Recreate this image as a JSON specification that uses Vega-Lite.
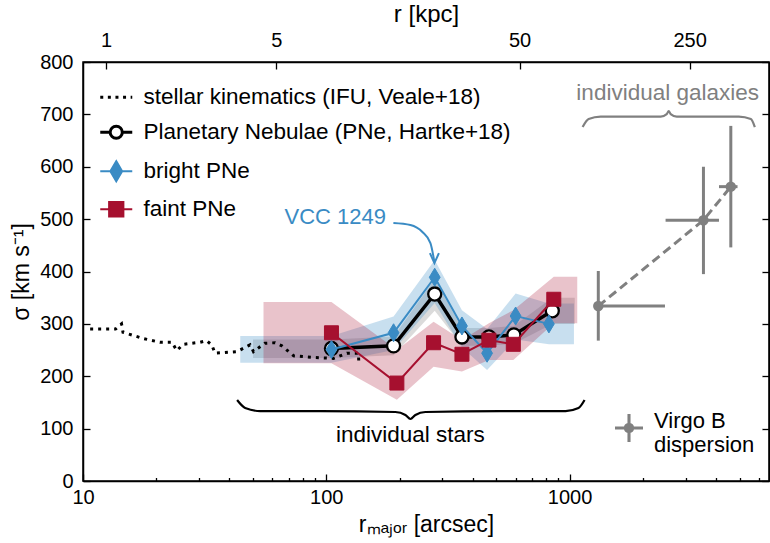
{
  "$schema": "https://vega.github.io/schema/vega-lite/v6.json",
  "width": 686,
  "height": 419,
  "autosize": {"type": "none"},
  "padding": {"left": 83, "top": 62, "right": 1, "bottom": 62},
  "background": "white",
  "config": {
    "font": "Liberation Sans",
    "view": {"stroke": "black", "strokeWidth": 1.5},
    "axis": {"grid": false, "domainColor": "black", "domainWidth": 1.5, "tickColor": "black", "tickWidth": 1.3, "labelFont": "Liberation Sans", "labelFontSize": 20, "labelColor": "black", "titleFont": "Liberation Sans", "titleFontSize": 23, "titleFontWeight": "normal", "titleColor": "black", "labelOverlap": false, "labelFlush": false},
    "legend": {"labelFont": "Liberation Sans", "labelColor": "black"}
  },
  "datasets": {
    "stellar": [
      {"series": "stellar kinematics (IFU, Veale+18)", "r": 10.7, "sigma": 290},
      {"series": "stellar kinematics (IFU, Veale+18)", "r": 13.6, "sigma": 290},
      {"series": "stellar kinematics (IFU, Veale+18)", "r": 14.4, "sigma": 300},
      {"series": "stellar kinematics (IFU, Veale+18)", "r": 14.6, "sigma": 284},
      {"series": "stellar kinematics (IFU, Veale+18)", "r": 17.7, "sigma": 272},
      {"series": "stellar kinematics (IFU, Veale+18)", "r": 20.7, "sigma": 265},
      {"series": "stellar kinematics (IFU, Veale+18)", "r": 23.2, "sigma": 265},
      {"series": "stellar kinematics (IFU, Veale+18)", "r": 24.3, "sigma": 249},
      {"series": "stellar kinematics (IFU, Veale+18)", "r": 25.8, "sigma": 261},
      {"series": "stellar kinematics (IFU, Veale+18)", "r": 30.3, "sigma": 265},
      {"series": "stellar kinematics (IFU, Veale+18)", "r": 32.2, "sigma": 268},
      {"series": "stellar kinematics (IFU, Veale+18)", "r": 33.8, "sigma": 260},
      {"series": "stellar kinematics (IFU, Veale+18)", "r": 34.9, "sigma": 244},
      {"series": "stellar kinematics (IFU, Veale+18)", "r": 42.9, "sigma": 247},
      {"series": "stellar kinematics (IFU, Veale+18)", "r": 48.6, "sigma": 260},
      {"series": "stellar kinematics (IFU, Veale+18)", "r": 50.2, "sigma": 247},
      {"series": "stellar kinematics (IFU, Veale+18)", "r": 55.9, "sigma": 263},
      {"series": "stellar kinematics (IFU, Veale+18)", "r": 61.6, "sigma": 264},
      {"series": "stellar kinematics (IFU, Veale+18)", "r": 65.7, "sigma": 258},
      {"series": "stellar kinematics (IFU, Veale+18)", "r": 73.4, "sigma": 239},
      {"series": "stellar kinematics (IFU, Veale+18)", "r": 88.8, "sigma": 236},
      {"series": "stellar kinematics (IFU, Veale+18)", "r": 107, "sigma": 234},
      {"series": "stellar kinematics (IFU, Veale+18)", "r": 121.5, "sigma": 244},
      {"series": "stellar kinematics (IFU, Veale+18)", "r": 135.6, "sigma": 244},
      {"series": "stellar kinematics (IFU, Veale+18)", "r": 136, "sigma": 225}
    ],
    "pne_all": [
      {"series": "Planetary Nebulae (PNe, Hartke+18)", "r": 105, "sigma": 253},
      {"series": "Planetary Nebulae (PNe, Hartke+18)", "r": 189, "sigma": 258},
      {"series": "Planetary Nebulae (PNe, Hartke+18)", "r": 279, "sigma": 357},
      {"series": "Planetary Nebulae (PNe, Hartke+18)", "r": 361, "sigma": 275},
      {"series": "Planetary Nebulae (PNe, Hartke+18)", "r": 466, "sigma": 275},
      {"series": "Planetary Nebulae (PNe, Hartke+18)", "r": 590, "sigma": 279},
      {"series": "Planetary Nebulae (PNe, Hartke+18)", "r": 849, "sigma": 325}
    ],
    "pne_bright": [
      {"series": "bright PNe", "r": 105, "sigma": 251},
      {"series": "bright PNe", "r": 189, "sigma": 283},
      {"series": "bright PNe", "r": 279, "sigma": 389},
      {"series": "bright PNe", "r": 361, "sigma": 296},
      {"series": "bright PNe", "r": 458, "sigma": 244},
      {"series": "bright PNe", "r": 600, "sigma": 315},
      {"series": "bright PNe", "r": 822, "sigma": 300}
    ],
    "pne_faint": [
      {"series": "faint PNe", "r": 105, "sigma": 283},
      {"series": "faint PNe", "r": 195, "sigma": 187},
      {"series": "faint PNe", "r": 276, "sigma": 264},
      {"series": "faint PNe", "r": 361, "sigma": 242},
      {"series": "faint PNe", "r": 466, "sigma": 269},
      {"series": "faint PNe", "r": 587, "sigma": 261},
      {"series": "faint PNe", "r": 861, "sigma": 347}
    ],
    "band_all": [
      {"r": 50, "lo": 235, "hi": 270},
      {"r": 105, "lo": 235, "hi": 270},
      {"r": 189, "lo": 240, "hi": 276},
      {"r": 279, "lo": 325, "hi": 385},
      {"r": 361, "lo": 258, "hi": 292},
      {"r": 466, "lo": 258, "hi": 292},
      {"r": 590, "lo": 262, "hi": 296},
      {"r": 849, "lo": 300, "hi": 350},
      {"r": 1050, "lo": 300, "hi": 350}
    ],
    "band_bright": [
      {"r": 44.3, "lo": 226, "hi": 277},
      {"r": 105, "lo": 226, "hi": 277},
      {"r": 189, "lo": 250, "hi": 314},
      {"r": 279, "lo": 340, "hi": 422},
      {"r": 361, "lo": 255, "hi": 326},
      {"r": 458, "lo": 212, "hi": 290},
      {"r": 600, "lo": 270, "hi": 358},
      {"r": 822, "lo": 261, "hi": 339},
      {"r": 1042, "lo": 261, "hi": 339}
    ],
    "band_faint": [
      {"r": 55.2, "lo": 225, "hi": 342},
      {"r": 105, "lo": 225, "hi": 342},
      {"r": 195, "lo": 155, "hi": 250},
      {"r": 276, "lo": 218, "hi": 304},
      {"r": 361, "lo": 209, "hi": 269},
      {"r": 466, "lo": 231, "hi": 301},
      {"r": 587, "lo": 231, "hi": 326},
      {"r": 861, "lo": 301, "hi": 390},
      {"r": 1075, "lo": 301, "hi": 390}
    ],
    "galaxies": [
      {"grp": "Virgo B dispersion", "r": 1312, "sigma": 334, "rlo": 1312, "rhi": 2466, "slo": 268, "shi": 401},
      {"grp": "Virgo B dispersion", "r": 3549, "sigma": 498, "rlo": 2480, "rhi": 4111, "slo": 395, "shi": 600},
      {"grp": "Virgo B dispersion", "r": 4598, "sigma": 562, "rlo": 4111, "rhi": 4900, "slo": 446, "shi": 678}
    ],
    "brace_stars": [
      {"r": 43.0, "sigma": 154.6}, {"r": 46.4, "sigma": 139.4}, {"r": 53.5, "sigma": 133.6},
      {"r": 94.5, "sigma": 133.6}, {"r": 192.3, "sigma": 131.7}, {"r": 211.4, "sigma": 126},
      {"r": 221.7, "sigma": 118.4}, {"r": 232.4, "sigma": 126}, {"r": 255.5, "sigma": 131.7},
      {"r": 520, "sigma": 133.6}, {"r": 962.7, "sigma": 133.6}, {"r": 1088, "sigma": 139.4},
      {"r": 1152, "sigma": 154.6}
    ],
    "brace_gal": [
      {"r": 1131, "sigma": 675.8}, {"r": 1197, "sigma": 691}, {"r": 1341, "sigma": 695.8},
      {"r": 2368, "sigma": 695.8}, {"r": 2507, "sigma": 700.6}, {"r": 2555, "sigma": 706.3},
      {"r": 2603, "sigma": 700.6}, {"r": 2756, "sigma": 695.8}, {"r": 4961, "sigma": 695.8},
      {"r": 5557, "sigma": 691}, {"r": 5772, "sigma": 675.8}
    ],
    "arrow": [
      {"r": 188.7, "sigma": 492.5}, {"r": 221.7, "sigma": 488.7}, {"r": 248.3, "sigma": 475.3},
      {"r": 267.9, "sigma": 454.3}, {"r": 278.2, "sigma": 418}
    ]
  },
  "layer": [
    {
      "encoding": {
        "x": {"field": "r", "type": "quantitative", "scale": {"type": "log", "domain": [10, 6600], "nice": false},
          "axis": {"orient": "bottom", "title": "rₘₐⱼₒᵣ [arcsec]",
            "values": [10, 20, 30, 40, 50, 60, 70, 80, 90, 100, 200, 300, 400, 500, 600, 700, 800, 900, 1000, 2000, 3000, 4000, 5000, 6000],
            "format": "d",
            "labelExpr": "(datum.value == 10 || datum.value == 100 || datum.value == 1000) ? datum.label : ''",
            "tickSize": {"condition": {"test": "datum.value == 10 || datum.value == 100 || datum.value == 1000", "value": -7}, "value": -3.5},
            "labelPadding": 13, "titlePadding": 3}},
        "y": {"field": "sigma", "type": "quantitative", "scale": {"domain": [0, 800], "nice": false},
          "axis": {"orient": "left", "title": "σ [km s⁻¹]", "values": [0, 100, 200, 300, 400, 500, 600, 700, 800], "tickSize": -7, "labelPadding": 17, "titlePadding": 6}}
      },
      "layer": [
        {"data": {"name": "band_all"}, "mark": {"type": "area", "color": "#888888", "opacity": 0.3},
          "encoding": {"y": {"field": "lo", "type": "quantitative", "title": "σ [km s⁻¹]"}, "y2": {"field": "hi"}}},
        {"data": {"name": "band_bright"}, "mark": {"type": "area", "color": "#3a8bc4", "opacity": 0.28},
          "encoding": {"y": {"field": "lo", "type": "quantitative", "title": "σ [km s⁻¹]"}, "y2": {"field": "hi"}}},
        {"data": {"name": "band_faint"}, "mark": {"type": "area", "color": "#a6102f", "opacity": 0.25},
          "encoding": {"y": {"field": "lo", "type": "quantitative", "title": "σ [km s⁻¹]"}, "y2": {"field": "hi"}}},
        {"data": {"name": "brace_stars"}, "mark": {"type": "line", "color": "black", "strokeWidth": 2.2, "interpolate": "monotone"}, "encoding": {}},
        {"data": {"name": "brace_gal"}, "mark": {"type": "line", "color": "#808080", "strokeWidth": 2.2, "interpolate": "monotone"}, "encoding": {}},
        {"data": {"name": "galaxies"}, "mark": {"type": "line", "color": "#808080", "strokeWidth": 3, "strokeDash": [9, 5]}, "encoding": {}},
        {"data": {"name": "galaxies"}, "mark": {"type": "rule", "color": "#808080", "strokeWidth": 3},
          "encoding": {"x": {"field": "rlo", "type": "quantitative", "title": "rₘₐⱼₒᵣ [arcsec]"}, "x2": {"field": "rhi"}}},
        {"data": {"name": "galaxies"}, "mark": {"type": "rule", "color": "#808080", "strokeWidth": 3},
          "encoding": {"y": {"field": "slo", "type": "quantitative", "title": "σ [km s⁻¹]"}, "y2": {"field": "shi"}}},
        {"data": {"name": "galaxies"}, "mark": {"type": "point", "filled": true, "color": "#808080", "size": 110, "opacity": 1}, "encoding": {}},
        {"data": {"name": "galaxies"}, "mark": {"type": "point", "filled": true, "color": "#808080", "size": 0, "opacity": 1},
          "encoding": {"shape": {"field": "grp", "type": "nominal",
            "scale": {"range": ["M-1,-0.11L1,-0.11L1,0.11L-1,0.11Z M-0.11,-1L0.11,-1L0.11,1L-0.11,1Z M-0.37,0A0.37,0.37 0 1,1 0.37,0A0.37,0.37 0 1,1 -0.37,0Z"]},
            "legend": {"title": null, "orient": "none", "legendX": 531, "legendY": 351, "symbolSize": 784, "symbolFillColor": "#808080", "symbolStrokeColor": "#808080", "symbolOpacity": 1, "labelFontSize": 22, "labelOffset": 10, "labelLimit": 400, "padding": 0,
              "labelBaseline": "alphabetic",
              "labelExpr": "['Virgo B', 'dispersion']"}}}},
        {"data": {"name": "stellar"}, "mark": {"type": "line", "strokeWidth": 3, "strokeDash": [3, 5]},
          "encoding": {"color": {"field": "series", "type": "nominal",
            "scale": {"domain": ["stellar kinematics (IFU, Veale+18)", "Planetary Nebulae (PNe, Hartke+18)", "bright PNe", "faint PNe"], "range": ["black", "black", "#3a8bc4", "#a6102f"]},
            "legend": {"title": null, "orient": "none", "legendX": 22, "legendY": 24, "symbolSize": 1024, "labelFontSize": 22.5, "labelOffset": 16, "rowPadding": 11, "labelLimit": 500, "padding": 0,
              "encode": {"symbols": {"update": {
                "shape": {"signal": "datum.value === 'stellar kinematics (IFU, Veale+18)' ? 'M-1,0L1,0' : datum.value === 'Planetary Nebulae (PNe, Hartke+18)' ? 'M-1,0L-0.38,0M0.38,0L1,0M-0.38,0A0.38,0.38 0 1,0 0.38,0A0.38,0.38 0 1,0 -0.38,0Z' : datum.value === 'bright PNe' ? 'M-1,0L1,0M0,-0.62L0.36,0L0,0.62L-0.36,0Z' : 'M-1,0L1,0M-0.44,-0.44L0.44,-0.44L0.44,0.44L-0.44,0.44Z'"},
                "fill": {"signal": "datum.value === 'stellar kinematics (IFU, Veale+18)' ? 'transparent' : datum.value === 'Planetary Nebulae (PNe, Hartke+18)' ? 'white' : datum.value === 'bright PNe' ? '#3a8bc4' : '#a6102f'"},
                "stroke": {"signal": "datum.value === 'bright PNe' ? '#3a8bc4' : datum.value === 'faint PNe' ? '#a6102f' : 'black'"},
                "strokeWidth": {"signal": "datum.value === 'bright PNe' || datum.value === 'faint PNe' ? 2.2 : 3"},
                "strokeDash": {"signal": "datum.value === 'stellar kinematics (IFU, Veale+18)' ? [3, 4.6] : []"},
                "opacity": {"value": 1}, "fillOpacity": {"value": 1}, "strokeOpacity": {"value": 1}
              }}}}}}},
        {"data": {"name": "pne_all"}, "mark": {"type": "line", "strokeWidth": 3.5},
          "encoding": {"color": {"field": "series", "type": "nominal"}}},
        {"data": {"name": "pne_all"}, "mark": {"type": "point", "shape": "circle", "size": 170, "filled": true, "fill": "white", "stroke": "black", "strokeWidth": 2.3, "opacity": 1}, "encoding": {}},
        {"data": {"name": "pne_bright"}, "mark": {"type": "line", "strokeWidth": 2},
          "encoding": {"color": {"field": "series", "type": "nominal"}}},
        {"data": {"name": "pne_bright"}, "mark": {"type": "point", "shape": "M0,-1L0.6,0L0,1L-0.6,0Z", "size": 324, "filled": true, "fill": "#3a8bc4", "stroke": "#3a8bc4", "strokeWidth": 1, "opacity": 1}, "encoding": {}},
        {"data": {"name": "pne_faint"}, "mark": {"type": "line", "strokeWidth": 2},
          "encoding": {"color": {"field": "series", "type": "nominal"}}},
        {"data": {"name": "pne_faint"}, "mark": {"type": "point", "shape": "square", "size": 196, "filled": true, "fill": "#a6102f", "stroke": "#a6102f", "strokeWidth": 1, "opacity": 1}, "encoding": {}},
        {"data": {"name": "arrow"}, "mark": {"type": "line", "color": "#3a8bc4", "strokeWidth": 2, "interpolate": "monotone"}, "encoding": {}},
        {"data": {"values": [{"r": 278.2, "sigma": 416}]}, "mark": {"type": "point", "shape": "M-0.45,-1L0,0L0.45,-1", "size": 400, "filled": false, "stroke": "#3a8bc4", "strokeWidth": 2, "opacity": 1}, "encoding": {}},
        {"data": {"values": [{"r": 108.9, "sigma": 504, "label": "VCC 1249"}]}, "mark": {"type": "text", "color": "#3a8bc4", "fontSize": 22, "align": "center", "baseline": "middle"}, "encoding": {"text": {"field": "label"}}},
        {"data": {"values": [{"r": 221.7, "sigma": 88, "label": "individual stars"}]}, "mark": {"type": "text", "color": "black", "fontSize": 22.5, "align": "center", "baseline": "middle"}, "encoding": {"text": {"field": "label"}}},
        {"data": {"values": [{"r": 2530, "sigma": 740, "label": "individual galaxies"}]}, "mark": {"type": "text", "color": "#808080", "fontSize": 22.5, "align": "center", "baseline": "middle"}, "encoding": {"text": {"field": "label"}}}
      ]
    },
    {
      "data": {"values": [{}]},
      "mark": {"type": "point", "opacity": 0},
      "encoding": {
        "x": {"datum": 5, "type": "quantitative", "scale": {"type": "log", "domain": [0.8032, 530.1], "nice": false},
          "axis": {"orient": "top", "title": "r [kpc]", "titleFontSize": 24, "values": [1, 5, 50, 250], "format": "d", "tickSize": -7, "labelPadding": 19, "titlePadding": 4}},
        "y": {"datum": 0, "type": "quantitative", "scale": {"domain": [0, 800], "nice": false},
          "axis": {"orient": "right", "title": null, "values": [0, 100, 200, 300, 400, 500, 600, 700, 800], "labels": false, "tickSize": -7}}
      }
    }
  ],
  "resolve": {"scale": {"x": "independent", "y": "independent"}}
}
